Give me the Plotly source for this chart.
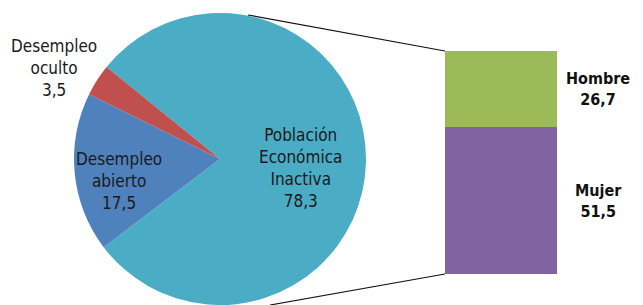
import plotly.graph_objects as go

# ---- data ----
pie_labels = ["Población<br>Económica<br>Inactiva", "Desempleo<br>abierto", "Desempleo<br>oculto"]
pie_values = [78.3, 17.5, 3.5]
pie_colors = ["#4BACC6", "#4F81BD", "#C0504D"]

bar_labels = ["Mujer", "Hombre"]
bar_values = [51.5, 26.7]
bar_colors = ["#8064A2", "#9BBB59"]

def fmt(v):
    return f"{v:.1f}".replace(".", ",")

W, H = 643, 305
MT, MB = 13, 0
PH = H - MT - MB

def px_x(x):
    return x / W

def px_y(y):
    return (H - MB - y) / PH

cx, r = 220, PH / 2.0

FONT = "DejaVu Sans Condensed, Liberation Sans Narrow, sans-serif"

fig = go.Figure()

fig.add_trace(go.Pie(
    labels=[l.replace("<br>", " ") for l in pie_labels],
    values=pie_values,
    marker=dict(colors=pie_colors, line=dict(width=0)),
    sort=False,
    direction="clockwise",
    rotation=-51,
    textinfo="none",
    hoverinfo="label+value",
    showlegend=False,
    domain=dict(x=[(cx - r) / W, (cx + r) / W], y=[0, 1]),
))

# stacked bar
bar_x0, bar_x1 = 445, 557
bar_top, bar_bot = 51, 274
for lab, val, col in zip(bar_labels, bar_values, bar_colors):
    fig.add_trace(go.Bar(
        x=[0], y=[val], name=lab, width=1,
        marker=dict(color=col, line=dict(width=0)),
        showlegend=False, hoverinfo="name+y",
    ))

total = sum(bar_values)
fig.update_layout(
    barmode="stack",
    width=W, height=H,
    margin=dict(l=0, r=0, t=MT, b=MB),
    paper_bgcolor="white", plot_bgcolor="white",
    font=dict(family=FONT, color="#1a1a1a"),
    xaxis=dict(domain=[px_x(bar_x0), px_x(bar_x1)], range=[-0.5, 0.5], visible=False, fixedrange=True),
    yaxis=dict(domain=[px_y(bar_bot), px_y(bar_top)], range=[0, total], visible=False, fixedrange=True),
)

# pie labels
pie_label_pos = [(300, 168), (119, 181), (54, 68)]
for lab, val, (lx, ly) in zip(pie_labels, pie_values, pie_label_pos):
    fig.add_annotation(
        x=px_x(lx), y=px_y(ly), xref="paper", yref="paper",
        text=f"{lab}<br>{fmt(val)}", showarrow=False,
        font=dict(size=17, color="#1a1a1a", family=FONT), align="center",
        xanchor="center", yanchor="middle",
    )

# bar labels
cum = 0
for lab, val in zip(bar_labels, bar_values):
    fig.add_annotation(
        x=px_x(598), y=cum + val / 2, xref="paper", yref="y",
        text=f"<b>{lab}<br>{fmt(val)}</b>", showarrow=False,
        font=dict(size=16, color="#111111", family=FONT), align="center",
        xanchor="center", yanchor="middle",
    )
    cum += val

# connector lines
fig.add_shape(type="line", xref="paper", yref="paper",
              x0=px_x(248), y0=px_y(15), x1=px_x(bar_x0), y1=px_y(bar_top),
              line=dict(color="#111111", width=1.2))
fig.add_shape(type="line", xref="paper", yref="paper",
              x0=px_x(270), y0=px_y(305), x1=px_x(bar_x0), y1=px_y(bar_bot),
              line=dict(color="#111111", width=1.2))

fig.write_html("out.html", config={"displayModeBar": False},
               post_script="document.body.style.margin='0px';document.body.style.overflow='hidden';")
